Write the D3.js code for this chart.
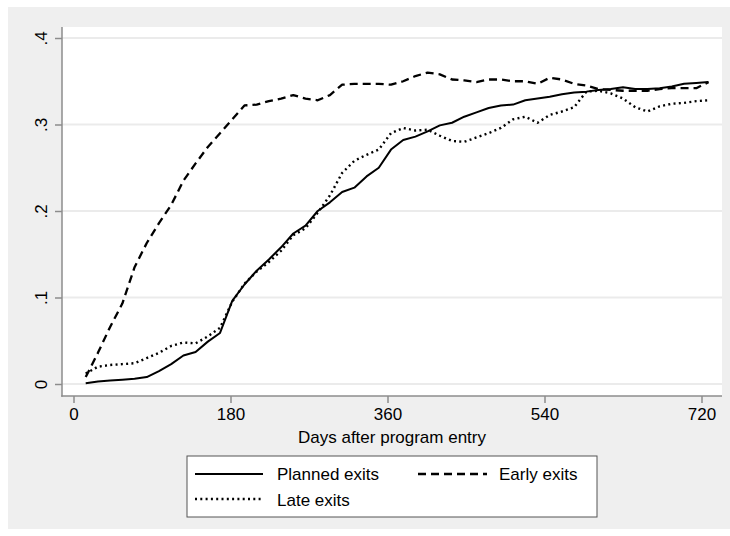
<!DOCTYPE html>
<html>
<head>
<meta charset="utf-8">
<script src="https://cdn.jsdelivr.net/npm/d3@7"></script>
<style>
  html, body { margin: 0; padding: 0; background: #ffffff; }
  svg { display: block; font-family: "Liberation Sans", Arial, sans-serif; }
</style>
</head>
<body>
<svg id="chart" width="730" height="536"></svg>
<script>
// ---- data ----
const days = [14, 28, 42, 56, 70, 84, 98, 112, 126, 140, 154, 168, 182, 196, 210, 224, 238, 252,
  266, 280, 294, 308, 322, 336, 350, 364, 378, 392, 406, 420, 434, 448, 462, 476, 490, 504,
  518, 532, 546, 560, 574, 588, 602, 616, 630, 644, 658, 672, 686, 700, 714, 728];

const planned = [0.001, 0.003, 0.004, 0.005, 0.006, 0.008, 0.015, 0.023, 0.033, 0.037, 0.049, 0.059,
  0.096, 0.115, 0.131, 0.144, 0.158, 0.174, 0.183, 0.200, 0.210, 0.222, 0.227, 0.240, 0.250, 0.271,
  0.282, 0.286, 0.292, 0.299, 0.302, 0.309, 0.314, 0.319, 0.322, 0.323, 0.328, 0.330, 0.332, 0.335,
  0.337, 0.338, 0.340, 0.341, 0.343, 0.341, 0.341, 0.342, 0.344, 0.347, 0.348, 0.349];

const early = [0.008, 0.036, 0.066, 0.093, 0.135, 0.163, 0.186, 0.207, 0.235, 0.255, 0.274, 0.290,
  0.306, 0.322, 0.323, 0.327, 0.330, 0.334, 0.330, 0.328, 0.334, 0.346, 0.347, 0.347, 0.347, 0.346,
  0.350, 0.356, 0.360, 0.358, 0.352, 0.351, 0.349, 0.352, 0.352, 0.350, 0.350, 0.347, 0.354, 0.352,
  0.347, 0.345, 0.341, 0.340, 0.339, 0.339, 0.339, 0.341, 0.342, 0.342, 0.342, 0.349];

const late = [0.012, 0.020, 0.022, 0.023, 0.024, 0.030, 0.036, 0.044, 0.048, 0.047, 0.055, 0.065,
  0.095, 0.116, 0.130, 0.141, 0.154, 0.172, 0.180, 0.198, 0.218, 0.244, 0.258, 0.265, 0.271, 0.290,
  0.296, 0.293, 0.294, 0.287, 0.281, 0.280, 0.285, 0.290, 0.296, 0.306, 0.309, 0.302, 0.311, 0.315,
  0.320, 0.338, 0.339, 0.336, 0.330, 0.320, 0.315, 0.321, 0.324, 0.325, 0.327, 0.328];

const xTicks = [0, 180, 360, 540, 720];
const yTicks = [0, 0.1, 0.2, 0.3, 0.4];
const yTickLabels = ["0", ".1", ".2", ".3", ".4"];
const xTitle = "Days after program entry";
const seriesNames = ["Planned exits", "Early exits", "Late exits"];

// ---- layout ----
const svg = d3.select("#chart");
const plot = { left: 62, right: 722, top: 27, bottom: 396 };
const x = d3.scaleLinear().domain([0, 720]).range([73.5, 701.5]);
const y = d3.scaleLinear().domain([0, 0.4]).range([384, 38]);
const axisColor = "#8c8c8c";
const fontSize = 17;

// outer graph region
svg.append("rect").attr("x", 8).attr("y", 7).attr("width", 722).attr("height", 522)
  .attr("fill", "#efefef");
// plot region
svg.append("rect").attr("x", plot.left).attr("y", plot.top)
  .attr("width", plot.right - plot.left).attr("height", plot.bottom - plot.top)
  .attr("fill", "#ffffff");

// gridlines
svg.append("g").selectAll("line").data(yTicks).join("line")
  .attr("x1", plot.left).attr("x2", plot.right)
  .attr("y1", d => y(d)).attr("y2", d => y(d))
  .attr("stroke", "#ebebeb").attr("stroke-width", 2);

// y axis
const yAxis = svg.append("g").attr("transform", `translate(${plot.left},0)`)
  .call(d3.axisLeft(y).tickValues(yTicks).tickSize(7).tickPadding(0)
    .tickFormat((d, i) => yTickLabels[i]));
yAxis.select(".domain").remove();
yAxis.selectAll(".tick line").attr("stroke", axisColor).attr("stroke-width", 1.5);
yAxis.selectAll(".tick text")
  .attr("transform", "rotate(-90)")
  .attr("x", 0).attr("y", -15).attr("dy", 0)
  .attr("text-anchor", "middle")
  .attr("font-size", fontSize).attr("fill", "#000")
  .attr("font-family", "Liberation Sans, Arial, sans-serif");

// x axis
const xAxis = svg.append("g").attr("transform", `translate(0,${plot.bottom})`)
  .call(d3.axisBottom(x).tickValues(xTicks).tickSize(7).tickPadding(0)
    .tickFormat(d3.format("d")));
xAxis.select(".domain").remove();
xAxis.selectAll(".tick line").attr("stroke", axisColor).attr("stroke-width", 1.5);
xAxis.selectAll(".tick text")
  .attr("y", 24).attr("dy", 0)
  .attr("font-size", fontSize).attr("fill", "#000")
  .attr("font-family", "Liberation Sans, Arial, sans-serif");

// axis lines
svg.append("line").attr("x1", plot.left).attr("x2", plot.left)
  .attr("y1", plot.top).attr("y2", plot.bottom + 0.75)
  .attr("stroke", axisColor).attr("stroke-width", 1.5);
svg.append("line").attr("x1", plot.left - 0.75).attr("x2", plot.right)
  .attr("y1", plot.bottom).attr("y2", plot.bottom)
  .attr("stroke", axisColor).attr("stroke-width", 1.5);

// x axis title
svg.append("text").attr("x", (plot.left + plot.right) / 2).attr("y", 443)
  .attr("text-anchor", "middle").attr("font-size", fontSize).text(xTitle);

// lines
const styles = [
  { data: planned, dash: null, width: 2 },
  { data: early, dash: "8,5", width: 2.3 },
  { data: late, dash: "2,3.3", width: 2.4 }
];
const line = d3.line().x((d, i) => x(days[i])).y(d => y(d));
styles.forEach(s => {
  svg.append("path").datum(s.data)
    .attr("d", line)
    .attr("fill", "none").attr("stroke", "#000")
    .attr("stroke-width", s.width)
    .attr("stroke-dasharray", s.dash)
    .attr("stroke-linejoin", "round");
});

// legend
const lg = svg.append("g");
lg.append("rect").attr("x", 187).attr("y", 456).attr("width", 410).attr("height", 61)
  .attr("fill", "#ffffff").attr("stroke", "#555").attr("stroke-width", 1);
const legendItems = [
  { name: seriesNames[0], s: styles[0], x0: 195, x1: 263, ty: 480, ly: 474, tx: 277 },
  { name: seriesNames[1], s: styles[1], x0: 418, x1: 487, ty: 480, ly: 474, tx: 499 },
  { name: seriesNames[2], s: styles[2], x0: 195, x1: 263, ty: 506, ly: 499, tx: 277 }
];
legendItems.forEach(it => {
  lg.append("line").attr("x1", it.x0).attr("x2", it.x1).attr("y1", it.ly).attr("y2", it.ly)
    .attr("stroke", "#000").attr("stroke-width", it.s.width)
    .attr("stroke-dasharray", it.s.dash);
  lg.append("text").attr("x", it.tx).attr("y", it.ty).attr("font-size", fontSize).text(it.name);
});
</script>
</body>
</html>
